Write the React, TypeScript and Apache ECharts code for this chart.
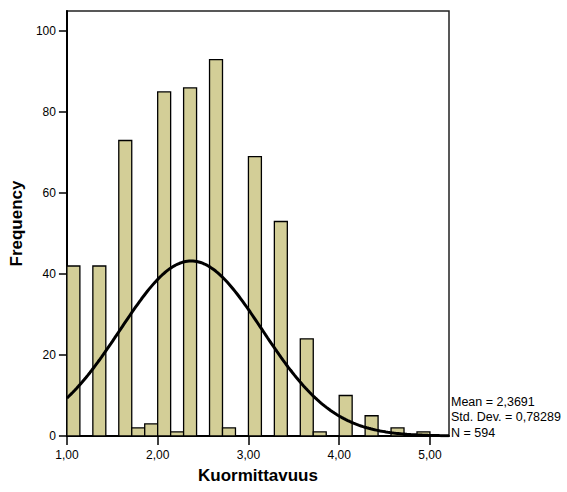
import React, { useEffect, useRef } from "react";
import * as echarts from "echarts";

// Histogram bins (width 1/7 starting at 1,00)
const BIN_START = 1;
const BIN_WIDTH = 1 / 7;
const COUNTS = [42, 0, 42, 0, 73, 2, 3, 85, 1, 86, 0, 93, 2, 0, 69, 0, 53, 0, 24, 1, 0, 10, 0, 5, 0, 2, 0, 1];

// Axis ticks
const X_TICKS = [1, 2, 3, 4, 5];
const Y_TICKS = [0, 20, 40, 60, 80, 100];
const X_MIN = 1;
const X_MAX = 5.21;
const Y_MAX = 105;

// Statistics shown beside the chart
const MEAN = 2.3691;
const SD = 0.78289;
const N = 594;
const STATS_LINES = ["Mean = 2,3691", "Std. Dev. = 0,78289", "N = 594"];

const X_TITLE = "Kuormittavuus";
const Y_TITLE = "Frequency";

const FONT = "'Liberation Sans', Arial, Helvetica, sans-serif";

export default function App() {
  const ref = useRef<HTMLDivElement>(null);

  useEffect(() => {
    if (!ref.current) return;
    const chart = echarts.init(ref.current, undefined, { renderer: "svg" });

    const bars = COUNTS.map((c, i) => [
      BIN_START + i * BIN_WIDTH,
      BIN_START + (i + 1) * BIN_WIDTH,
      c,
    ]).filter((d) => d[2] > 0);

    // Fitted normal curve from the stated mean, std. dev. and N
    const curve: number[][] = [];
    const steps = 200;
    for (let k = 0; k <= steps; k++) {
      const x = X_MIN + ((X_MAX - X_MIN) * k) / steps;
      const z = (x - MEAN) / SD;
      const y = (N * BIN_WIDTH * Math.exp(-0.5 * z * z)) / (SD * Math.sqrt(2 * Math.PI));
      curve.push([x, y]);
    }

    chart.setOption({
      animation: false,
      backgroundColor: "#fff",
      grid: {
        left: 64,
        right: 118,
        top: 11,
        bottom: 56,
        show: true,
        borderColor: "#222",
        borderWidth: 1.5,
        backgroundColor: "transparent",
      },
      xAxis: {
        type: "value",
        min: X_MIN,
        max: X_MAX,
        splitLine: { show: false },
        axisLine: { show: true, onZero: false, lineStyle: { color: "#000", width: 2 } },
        axisTick: {
          show: true,
          customValues: X_TICKS,
          length: 9,
          lineStyle: { color: "#000", width: 1.5 },
        },
        axisLabel: {
          customValues: X_TICKS,
          formatter: (v: number) => v.toFixed(2).replace(".", ","),
          color: "#000",
          fontSize: 12,
          fontFamily: FONT,
          margin: 13,
        },
        name: X_TITLE,
        nameLocation: "middle",
        nameGap: 31,
        nameTextStyle: { fontSize: 17, fontWeight: "bold", color: "#000", fontFamily: FONT },
      },
      yAxis: {
        type: "value",
        min: 0,
        max: Y_MAX,
        splitLine: { show: false },
        axisLine: { show: true, onZero: false, lineStyle: { color: "#000", width: 2 } },
        axisTick: {
          show: true,
          customValues: Y_TICKS,
          length: 8,
          lineStyle: { color: "#000", width: 1.5 },
        },
        axisLabel: {
          customValues: Y_TICKS,
          color: "#000",
          fontSize: 12,
          fontFamily: FONT,
          margin: 11,
        },
        name: Y_TITLE,
        nameLocation: "middle",
        nameGap: 36,
        nameTextStyle: { fontSize: 17, fontWeight: "bold", color: "#000", fontFamily: FONT },
      },
      series: [
        {
          type: "custom",
          data: bars,
          encode: { x: [0, 1], y: 2 },
          clip: true,
          z: 2,
          renderItem: (params: any, api: any) => {
            const p0 = api.coord([api.value(0), api.value(2)]);
            const p1 = api.coord([api.value(1), 0]);
            return {
              type: "rect",
              shape: { x: p0[0], y: p0[1], width: p1[0] - p0[0], height: p1[1] - p0[1] },
              style: { fill: "#D3CE97", stroke: "#000", lineWidth: 1.3 },
            };
          },
        },
        {
          type: "line",
          data: curve,
          showSymbol: false,
          symbol: "none",
          smooth: false,
          clip: true,
          z: 3,
          lineStyle: { color: "#000", width: 3 },
        },
      ],
      graphic: STATS_LINES.map((t, i) => ({
        type: "text",
        left: 451,
        top: 395 + i * 15.5,
        style: { text: t, fill: "#000", fontSize: 12.5, fontFamily: FONT },
      })),
    });

    return () => chart.dispose();
  }, []);

  return (
    <div
      ref={ref}
      style={{ position: "fixed", left: 0, top: 0, width: 567, height: 492, background: "#fff" }}
    />
  );
}
